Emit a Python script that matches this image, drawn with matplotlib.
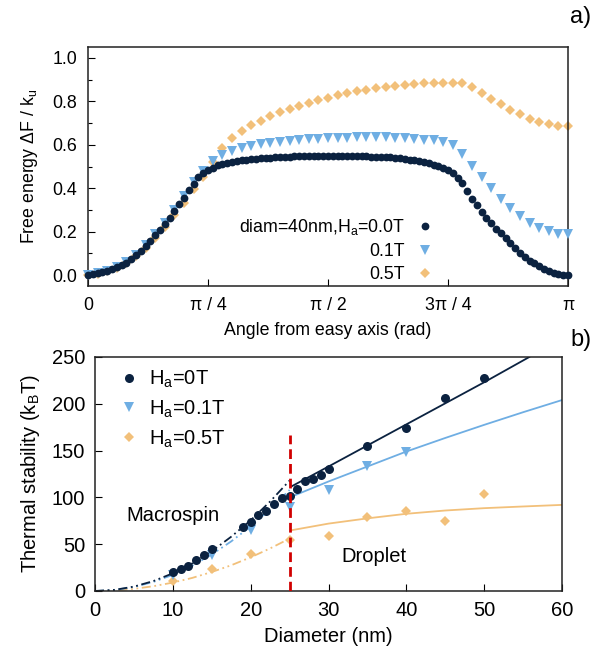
import numpy as np
import matplotlib
matplotlib.use("Agg")
import matplotlib.pyplot as plt
from matplotlib.lines import Line2D

plt.rcParams['font.family'] = ['Liberation Sans', 'DejaVu Sans']
plt.rcParams['mathtext.fontset'] = 'custom'
plt.rcParams['mathtext.rm'] = 'Liberation Sans'
plt.rcParams['mathtext.it'] = 'Liberation Sans:italic'

# ---------------- Panel a data ----------------
free_energy_h0 = [
    0.000, 0.003, 0.008, 0.013, 0.019, 0.027, 0.036, 0.046, 0.057, 0.072,
    0.091, 0.112, 0.134, 0.159, 0.185, 0.210, 0.236, 0.264, 0.296, 0.328,
    0.355, 0.390, 0.421, 0.450, 0.471, 0.486, 0.495, 0.506, 0.511, 0.516,
    0.521, 0.524, 0.528, 0.531, 0.534, 0.536, 0.538, 0.540, 0.541, 0.542,
    0.544, 0.545, 0.546, 0.547, 0.548, 0.548, 0.549, 0.549, 0.550, 0.550,
    0.550, 0.550, 0.550, 0.549, 0.549, 0.548, 0.548, 0.547, 0.547, 0.546,
    0.546, 0.545, 0.544, 0.542, 0.540, 0.537, 0.534, 0.531, 0.528, 0.524,
    0.519, 0.514, 0.508, 0.503, 0.495, 0.484, 0.470, 0.448, 0.423, 0.386,
    0.352, 0.323, 0.292, 0.264, 0.238, 0.214, 0.192, 0.170, 0.147, 0.124,
    0.103, 0.085, 0.067, 0.055, 0.041, 0.029, 0.020, 0.011, 0.006, 0.002,
    0.000]
free_energy_h01 = [
    0.000, 0.008, 0.020, 0.037, 0.060, 0.094, 0.138, 0.190, 0.242, 0.302,
    0.362, 0.428, 0.478, 0.525, 0.553, 0.571, 0.584, 0.594, 0.602, 0.609,
    0.614, 0.619, 0.622, 0.626, 0.628, 0.630, 0.632, 0.633, 0.634, 0.635,
    0.635, 0.634, 0.633, 0.630, 0.627, 0.624, 0.620, 0.614, 0.598, 0.556,
    0.503, 0.451, 0.399, 0.352, 0.307, 0.271, 0.240, 0.216, 0.201, 0.190,
    0.190]
free_energy_h05 = [
    0.000, 0.005, 0.018, 0.033, 0.056, 0.088, 0.126, 0.170, 0.220, 0.277,
    0.331, 0.395, 0.452, 0.520, 0.585, 0.630, 0.663, 0.690, 0.711, 0.732,
    0.750, 0.765, 0.780, 0.793, 0.805, 0.816, 0.828, 0.838, 0.846, 0.853,
    0.860, 0.865, 0.871, 0.877, 0.881, 0.884, 0.885, 0.886, 0.886, 0.884,
    0.866, 0.838, 0.809, 0.786, 0.761, 0.740, 0.720, 0.705, 0.695, 0.688,
    0.687]
labels_a = [r'diam=40nm,H$_{\rm a}$=0.0T', '0.1T', '0.5T']
xtick_labels_a = ['0', 'π / 4', 'π / 2', '3π / 4', 'π']

# ---------------- Panel b data ----------------
diam_h0 = [10, 11, 12, 13, 14, 15, 19, 20, 21, 22, 23, 24, 25, 26, 27, 28, 29, 30, 35, 40, 45, 50]
stab_h0 = [20.6, 23.5, 27, 33, 38.5, 44.5, 68, 74, 81, 86, 93, 99, 102, 109, 117, 120, 124, 130,
           155, 174.5, 206, 228]
diam_h01 = [10, 15, 20, 25, 30, 35, 40]
stab_h01 = [17, 38.5, 65, 90, 108, 133.5, 148]
diam_h05 = [10, 15, 20, 25, 30, 35, 40, 45, 50]
stab_h05 = [11, 24, 39.5, 54, 59, 79, 86, 75, 104]

# model curves
macro_d = [0, 2.5, 5, 7.5, 10, 12.5, 15, 17.5, 20, 22.5, 25]
macro_h0 = [0, 1.2, 4.7, 10.6, 18.9, 29.5, 42.5, 58, 75.5, 95.6, 118]
macro_h01 = [0, 1.1, 4.3, 9.7, 17.3, 27, 39, 53, 69, 87.5, 108]
macro_h05 = [0, 0.6, 2.3, 5.1, 9, 14, 20.3, 27.5, 36, 45.5, 56]
drop_d_h0 = [25.3, 30, 35, 40, 45, 50, 55.8]
drop_h0 = [112, 133, 155.5, 178, 200.5, 223, 250]
drop_d = [25.3, 30, 35, 40, 45, 50, 55, 60]
drop_h01 = [101, 117, 133, 149, 163.5, 177.5, 191, 204]
drop_h05 = [65, 72, 77.6, 82.5, 86, 88.5, 90.3, 92]
boundary_d = 25
boundary_top = 167
labels_b = [r'H$_{\rm a}$=0T', r'H$_{\rm a}$=0.1T', r'H$_{\rm a}$=0.5T']

C_DARK = '#0b2240'
C_BLUE = '#6faee3'
C_ORANGE = '#f2c07a'
C_RED = '#d00000'

FSA = 12.8
FSB = 14.5

fig = plt.figure(figsize=(5.99, 6.56), dpi=100)

# ================= Panel a =================
axa = fig.add_axes([88/599, 1-286/656, 480/599, 239/656])
ang0 = np.linspace(0, np.pi, len(free_energy_h0))
ang1 = np.linspace(0, np.pi, len(free_energy_h01))
ang5 = np.linspace(0, np.pi, len(free_energy_h05))
axa.plot(ang5, free_energy_h05, 'D', color=C_ORANGE, ms=5.0, mew=0, clip_on=False, zorder=2)
axa.plot(ang1, free_energy_h01, 'v', color=C_BLUE, ms=6.8, mew=0, clip_on=False, zorder=3)
axa.plot(ang0, free_energy_h0, 'o', color=C_DARK, ms=5.6, mew=0, clip_on=False, zorder=4)
axa.set_xlim(0, np.pi)
axa.set_ylim(-0.05, 1.05)
axa.set_xticks([0, np.pi/4, np.pi/2, 3*np.pi/4, np.pi])
axa.set_xticklabels(xtick_labels_a)
axa.set_yticks([0.0, 0.2, 0.4, 0.6, 0.8, 1.0])
axa.set_yticklabels(['0.0', '0.2', '0.4', '0.6', '0.8', '1.0'])
axa.set_yticks(np.arange(0.1, 1.0, 0.2), minor=True)
axa.tick_params(which='both', direction='in', top=False, right=False, labelsize=FSA)
axa.tick_params(which='major', length=5, width=0.8, pad=8)
axa.tick_params(which='minor', length=3, width=0.8)
axa.set_xlabel('Angle from easy axis (rad)', fontsize=FSA, labelpad=6)
axa.set_ylabel(r'Free energy ΔF / k$_{\rm u}$', fontsize=FSA, labelpad=9)
for s in axa.spines.values():
    s.set_linewidth(1.1)
    s.set_color('#222222')

ha = [Line2D([], [], ls='none', marker='o', color=C_DARK, ms=5.6, mew=0),
      Line2D([], [], ls='none', marker='v', color=C_BLUE, ms=6.8, mew=0),
      Line2D([], [], ls='none', marker='D', color=C_ORANGE, ms=5.0, mew=0)]
axa.legend(ha, labels_a, markerfirst=False, frameon=False, loc='lower right',
           bbox_to_anchor=(0.735, -0.018), fontsize=FSA, handlelength=1.0,
           handletextpad=0.6, labelspacing=0.33, borderaxespad=0)

fig.text(570/599, 1-17/656, 'a)', fontsize=17, ha='left', va='center')

# ================= Panel b =================
axb = fig.add_axes([95/599, 1-591/656, 467/599, 234/656])
dd = (5, 2, 1, 2, 1, 2)
axb.plot(macro_d, macro_h05, color=C_ORANGE, lw=1.3, dashes=dd, zorder=2)
axb.plot(macro_d, macro_h01, color=C_BLUE, lw=1.3, dashes=dd, zorder=2)
axb.plot(macro_d, macro_h0, color=C_DARK, lw=1.3, dashes=dd, zorder=2)
axb.plot(drop_d, drop_h05, color=C_ORANGE, lw=1.3, zorder=2)
axb.plot(drop_d, drop_h01, color=C_BLUE, lw=1.3, zorder=2)
axb.plot(drop_d_h0, drop_h0, color=C_DARK, lw=1.3, zorder=2)
axb.plot(diam_h05, stab_h05, 'D', color=C_ORANGE, ms=5.0, mew=0, zorder=3, label=labels_b[2])
axb.plot(diam_h01, stab_h01, 'v', color=C_BLUE, ms=7.2, mew=0, zorder=3, label=labels_b[1])
axb.plot(diam_h0, stab_h0, 'o', color=C_DARK, ms=6.5, mew=0, zorder=4, label=labels_b[0])
axb.plot([boundary_d, boundary_d], [0, boundary_top], color=C_RED, lw=2, dashes=(3.5, 1.8), zorder=5)
axb.set_xlim(0, 60)
axb.set_ylim(0, 250)
axb.set_xticks([0, 10, 20, 30, 40, 50, 60])
axb.set_yticks([0, 50, 100, 150, 200, 250])
axb.tick_params(which='both', direction='in', top=False, right=False, labelsize=FSB)
axb.tick_params(which='major', length=5, width=0.8, pad=7)
axb.set_xlabel('Diameter (nm)', fontsize=FSB, labelpad=5)
axb.set_ylabel(r'Thermal stability (k$_{\rm B}$T)', fontsize=FSB, labelpad=7)
for s in axb.spines.values():
    s.set_linewidth(1.1)
    s.set_color('#222222')

hb = [Line2D([], [], ls='none', marker='o', color=C_DARK, ms=6.5, mew=0),
      Line2D([], [], ls='none', marker='v', color=C_BLUE, ms=7.2, mew=0),
      Line2D([], [], ls='none', marker='D', color=C_ORANGE, ms=5.0, mew=0)]
axb.legend(hb, labels_b, frameon=False, loc='upper left', bbox_to_anchor=(0.02, 1.01),
           fontsize=FSB, handlelength=1.0, handletextpad=0.5, labelspacing=0.42, borderaxespad=0.3)

axb.text(4.0, 81, 'Macrospin', fontsize=FSB, ha='left', va='center')
axb.text(31.7, 36.6, 'Droplet', fontsize=FSB, ha='left', va='center')

fig.text(570/599, 1-340/656, 'b)', fontsize=17, ha='left', va='center')

fig.savefig('out.png', dpi=100)
